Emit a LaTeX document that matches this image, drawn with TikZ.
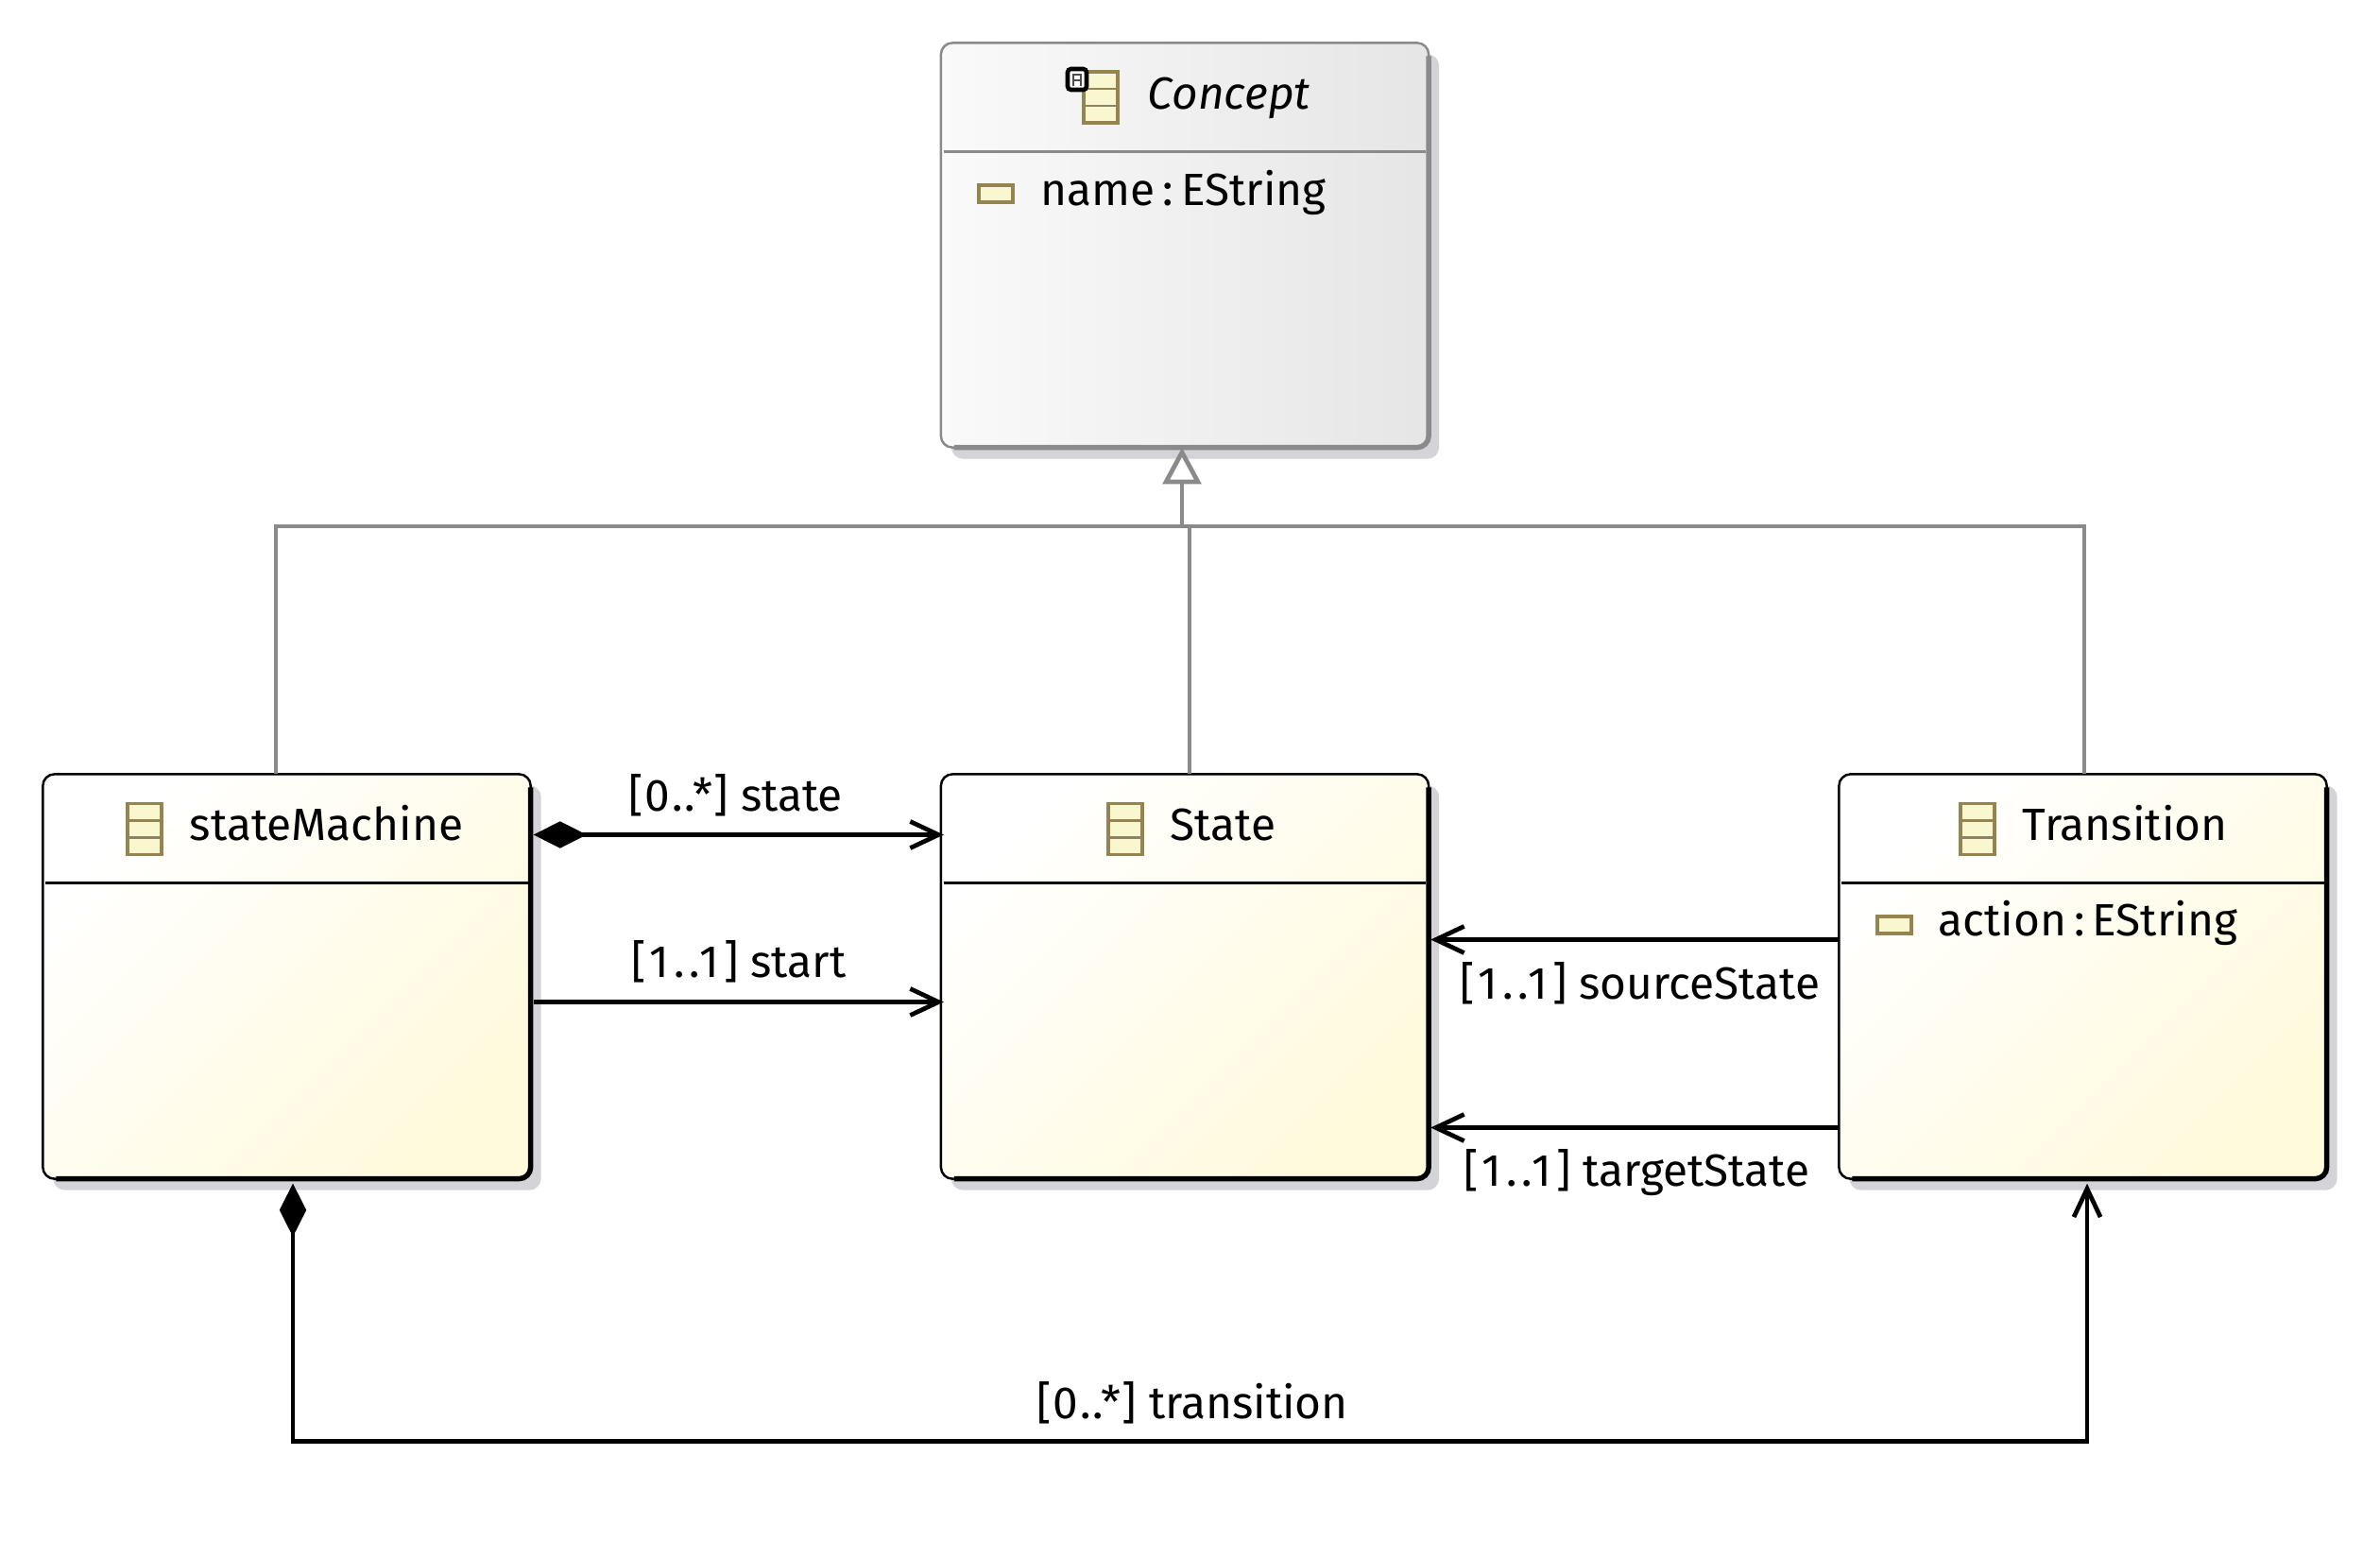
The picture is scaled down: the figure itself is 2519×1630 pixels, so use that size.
\documentclass[tikz,border=0pt]{standalone}
\usepackage{fontspec}
\setmainfont{Fira Sans}
\usetikzlibrary{arrows.meta,positioning,calc,shadows}
\definecolor{classline}{RGB}{0,0,0}
\definecolor{classend}{RGB}{255,250,220}
\definecolor{absline}{RGB}{138,138,138}
\definecolor{shadowgray}{RGB}{212,212,216}
\definecolor{iconline}{RGB}{150,132,80}
\definecolor{iconfill}{RGB}{248,247,208}
\newcommand{\mult}[2][4]{{\addfontfeature{LetterSpace=#1}#2}}
\tikzset{
  % class boxes
  classbox/.style={
    draw=classline,
    line width=0.7pt,
    rounded corners=3.5pt,
    minimum width=5.16cm,
    minimum height=4.28cm,
    outer sep=0pt,
    left color=white,
    right color=classend,
    shading angle=45,
    drop shadow={shadow xshift=0.11cm, shadow yshift=-0.12cm, fill=shadowgray, opacity=1}
  },
  absbox/.style={
    classbox,
    draw=absline,
    left color=white!98!black,
    right color=white!90!black
  },
  % heavy lower right edge
  edgeline/.style={line width=1.55pt, rounded corners=3.5pt},
  divider/.style={line width=0.7pt},
  % texts
  label/.style={anchor=base west, inner sep=0pt, font=\fontsize{13.6}{15}\selectfont},
  % connectors
  assoc/.style={-{Straight Barb[length=8.5pt,width=8pt]}, line width=1.35pt},
  compo/.style={{Diamond[length=16pt,width=8.1pt]}-{Straight Barb[length=8.5pt,width=8pt]}, line width=1.35pt},
  inherit/.style={absline, line width=1.35pt},
  % icons
  classicon/.pic={
    \draw[iconline, fill=iconfill, line width=1.1pt] (-18,-27) rectangle (18,27);
    \draw[iconline, line width=0.8pt] (-18,-9) -- (18,-9);
    \draw[iconline!60!gray, line width=0.8pt] (-18,9) -- (18,9);
  },
  attricon/.pic={
    \draw[iconline, fill=iconfill, line width=1.1pt] (-18,-9) rectangle (18,9);
  }
}
\begin{document}
\begin{tikzpicture}[x=0.01cm, y=-0.01cm]
    \useasboundingbox (0,0) rectangle (2519,1630);

    % Boxes
    \node[absbox] (concept) at (1254,259.5) {};
    \node[classbox] (machine) at (303.5,1033.5) {};
    \node[classbox] (statebox) at (1254,1033.5) {};
    \node[classbox] (trans) at (2204.5,1033.5) {};

    % Edges
    \draw[edgeline, absline] ($(concept.north east)+(0,14)$) -- (concept.south east) -- ($(concept.south west)+(14,0)$);
    \draw[edgeline] ($(machine.north east)+(0,14)$) -- (machine.south east) -- ($(machine.south west)+(14,0)$);
    \draw[edgeline] ($(statebox.north east)+(0,14)$) -- (statebox.south east) -- ($(statebox.south west)+(14,0)$);
    \draw[edgeline] ($(trans.north east)+(0,14)$) -- (trans.south east) -- ($(trans.south west)+(14,0)$);

    % Dividers
    \draw[divider, absline] ($(concept.north west)+(3,115)$) -- ($(concept.north east)+(-3,115)$);
    \draw[divider] ($(machine.north west)+(3,115)$) -- ($(machine.north east)+(-3,115)$);
    \draw[divider] ($(statebox.north west)+(3,115)$) -- ($(statebox.north east)+(-3,115)$);
    \draw[divider] ($(trans.north west)+(3,115)$) -- ($(trans.north east)+(-3,115)$);

    % Icons
    \pic at (1165,103) {classicon};
    \pic at (153,877.5) {classicon};
    \pic at (1191,877.5) {classicon};
    \pic at (2093,877.5) {classicon};
    \pic at (1054,205) {attricon};
    \pic at (2005,979) {attricon};
    \draw[black, fill=white, line width=1.3pt, rounded corners=1pt] (1130,73) rectangle (1150,95);
    \draw[black!70, line width=0.7pt] (1136,91) -- (1136,79) -- (1144,79) -- (1144,91) (1136,85) -- (1144,85);

    % Texts
    \node[label, font=\fontsize{13.6}{15}\selectfont\itshape] (conceptname) at (1214,115.5) {Concept};
    \node[label] (nameattr) at (1101,217.5) {name\,:\,EString};
    \node[label] (machinename) at (200,889.5) {stateMachine};
    \node[label] (statename) at (1238,889.5) {State};
    \node[label] (transname) at (2140,889.5) {Transition};
    \node[label] (actionattr) at (2051,990.5) {action\,:\,EString};

    % Generalization
    \coordinate (join) at (1251,557);
    \draw[inherit] ($(machine.north)+(-11.5,0)$) |- (join);
    \draw[inherit] ($(trans.north)+(1.5,0)$) |- (join);
    \draw[inherit] ($(statebox.north)+(5,0)$) |- (join);
    \draw[inherit, -{Triangle[length=11pt,width=11.5pt,fill=white]}] (join) -- ($(concept.south)+(-3,0)$);

    % Associations
    \draw[compo] ($(machine.east)+(3,-150)$) -- ($(statebox.west)+(3,-150)$);
    \draw[assoc] ($(machine.east)+(3,27)$) -- ($(statebox.west)+(3,27)$);
    \draw[assoc] ($(trans.west)+(0,-39)$) -- ($(statebox.east)+(2,-39)$);
    \draw[assoc] ($(trans.west)+(0,160)$) -- ($(statebox.east)+(2,160)$);
    \coordinate (bottom) at (1260,1525.5);
    \draw[compo] ($(machine.south)+(6.5,5)$) |- (bottom) -| ($(trans.south)+(4.5,5)$);

    % Association labels
    \node[label] (statelabel) at (665,858.5) {\mult{[0..*]} state};
    \node[label] (startlabel) at (668,1034.5) {\mult[10]{[1..1]} start};
    \node[label] (sourcelabel) at (1545,1057.5) {\mult[10]{[1..1]} sourceState};
    \node[label] (targetlabel) at (1549,1255.5) {\mult[10]{[1..1]} targetState};
    \node[label] (translabel) at (1097,1501.5) {\mult{[0..*]} transition};
\end{tikzpicture}
\end{document}
